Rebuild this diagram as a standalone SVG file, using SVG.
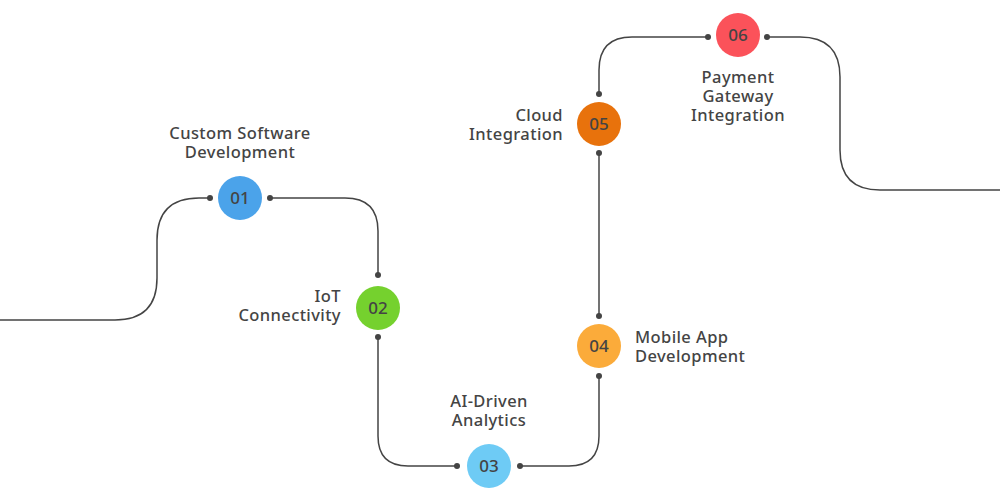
<svg xmlns="http://www.w3.org/2000/svg" width="1000" height="500" viewBox="0 0 1000 500">
<style>
.c{fill:none;stroke:#444;stroke-width:1.5}
.d{fill:#444}
.n{font-family:"Noto Sans","Liberation Sans",sans-serif;font-size:17px;font-weight:500;fill:#444;text-anchor:middle}
.l{font-family:"Noto Sans","Liberation Sans",sans-serif;font-size:16.5px;font-weight:500;fill:#444;letter-spacing:0.4px}
</style>
<rect width="1000" height="500" fill="#fff"/>
<g id="connectors">
<path class="c" d="M0,320 H115 Q157,320 157,278 V240 Q157,198 199,198 H210"/>
<path class="c" d="M270,198 H345 Q378,198 378,231 V275"/>
<path class="c" d="M378,337 V436 Q378,466 408,466 H457"/>
<path class="c" d="M520,466 H569 Q599,466 599,436 V376"/>
<path class="c" d="M599,316 V153"/>
<path class="c" d="M599,94 V70 Q599,37 632,37 H708"/>
<path class="c" d="M767,37 H800 Q840,37 840,77 V150 Q840,190 880,190 H1000"/>
<circle class="d" cx="210" cy="198" r="3"/><circle class="d" cx="270" cy="198" r="3"/>
<circle class="d" cx="378" cy="275" r="3"/><circle class="d" cx="378" cy="337" r="3"/>
<circle class="d" cx="457" cy="466" r="3"/><circle class="d" cx="520" cy="466" r="3"/>
<circle class="d" cx="599" cy="376" r="3"/><circle class="d" cx="599" cy="316" r="3"/>
<circle class="d" cx="599" cy="153" r="3"/><circle class="d" cx="599" cy="94" r="3"/>
<circle class="d" cx="708" cy="37" r="3"/><circle class="d" cx="767" cy="37" r="3"/>
</g>
<g id="n1"><circle cx="240" cy="198" r="22" fill="#4ba3ea"/><text class="n" x="240" y="204">01</text>
<text class="l" x="240" y="139" text-anchor="middle">Custom Software</text><text class="l" x="240" y="158" text-anchor="middle">Development</text></g>
<g id="n2"><circle cx="378" cy="308" r="22" fill="#75d12e"/><text class="n" x="378" y="314">02</text>
<text class="l" x="341" y="302" text-anchor="end">IoT</text><text class="l" x="341" y="321" text-anchor="end">Connectivity</text></g>
<g id="n3"><circle cx="489" cy="466" r="22" fill="#6ecbf5"/><text class="n" x="489" y="472">03</text>
<text class="l" x="489" y="407" text-anchor="middle">AI-Driven</text><text class="l" x="489" y="426" text-anchor="middle">Analytics</text></g>
<g id="n4"><circle cx="599" cy="346" r="22" fill="#fbab3a"/><text class="n" x="599" y="352">04</text>
<text class="l" x="635" y="343">Mobile App</text><text class="l" x="635" y="362">Development</text></g>
<g id="n5"><circle cx="599" cy="124" r="22" fill="#e8720c"/><text class="n" x="599" y="130">05</text>
<text class="l" x="563" y="121" text-anchor="end">Cloud</text><text class="l" x="563" y="140" text-anchor="end">Integration</text></g>
<g id="n6"><circle cx="738" cy="35" r="22" fill="#fb525a"/><text class="n" x="738" y="41">06</text>
<text class="l" x="738" y="83" text-anchor="middle">Payment</text><text class="l" x="738" y="102" text-anchor="middle">Gateway</text><text class="l" x="738" y="121" text-anchor="middle">Integration</text></g>
</svg>
